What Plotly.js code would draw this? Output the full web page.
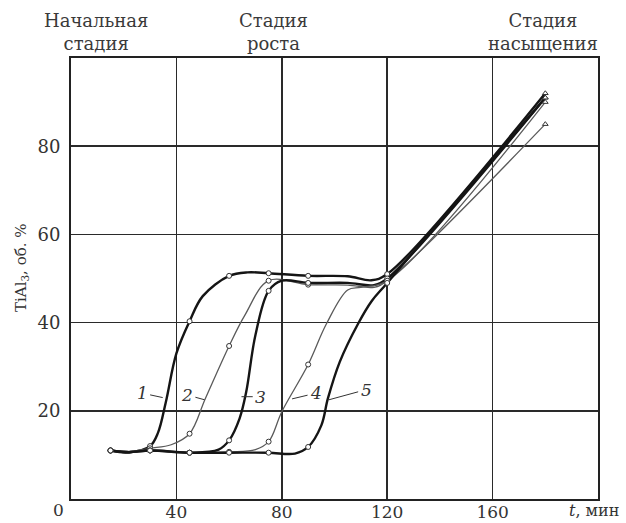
<!DOCTYPE html>
<html>
<head>
<meta charset="utf-8">
<script src="https://cdn.plot.ly/plotly-3.0.1.min.js"></script>
<style>html,body{margin:0;padding:0;background:#fff;}#chart{width:626px;height:523px;}</style>
</head>
<body>
<div id="chart"></div>
<script>
// Time, min, and TiAl3 volume fraction, %
const t1 = [15, 22, 30, 33, 36, 40, 45, 50, 60, 67, 75, 90, 105, 114, 120, 180];
const y1 = [11, 10.6, 12, 15, 22, 33, 40.3, 46, 50.6, 51.4, 51.2, 50.6, 50.5, 49.6, 51, 92];

const t2 = [15, 22, 30, 38, 45, 51, 60, 66, 75, 90, 105, 115, 120, 180];
const y2 = [11, 10.8, 11.5, 12.3, 14.8, 22.8, 34.7, 41.7, 49.5, 48.6, 48.5, 48, 49.5, 85];

const t3 = [15, 22, 30, 45, 56, 60, 64, 66.5, 70, 75, 80, 90, 105, 115, 120, 180];
const y3 = [11, 10.6, 11, 10.5, 11.2, 13.3, 18.3, 24.3, 37.2, 47.2, 49.5, 49, 49, 48.5, 50, 91];

const t4 = [15, 22, 30, 45, 60, 70, 75, 80, 90, 97, 105, 110, 120, 180];
const y4 = [11, 10.6, 11, 10.5, 10.7, 11.2, 13, 19.8, 30.5, 39.8, 47.4, 48, 49.5, 90];

const t5 = [15, 22, 30, 45, 60, 75, 85, 90, 95, 97.5, 102, 109, 114, 120, 180];
const y5 = [11, 10.6, 11, 10.5, 10.5, 10.5, 10.3, 11.8, 16.7, 22.8, 31.1, 39.8, 44.8, 49, 91];

const markerTimes = [15, 30, 45, 60, 75, 90, 120, 180];

const curveLabels = ['1', '2', '3', '4', '5'];
// label text position and point on the curve where the leader line ends
const labelTextX = [27, 44, 72, 93, 112];
const labelTextY = [24, 23.6, 23.2, 24, 24.8];
const labelTipX = [34.8, 50.7, 64.7, 83.9, 97.9];
const labelTipY = [23, 22.5, 23.2, 22.7, 22.5];

const stageLabels = ['Начальная<br>стадия', 'Стадия<br>роста', 'Стадия<br>насыщения'];

const xTicks = [40, 80, 120, 160];
const yTicks = [20, 40, 60, 80];

const FONT = 'DejaVu Serif, serif';
const series = [[t1, y1], [t2, y2], [t3, y3], [t4, y4], [t5, y5]];
const thick = [true, false, true, false, true];

// plot-area pixel geometry (for converting page positions of free texts)
const L = 71, R = 598, T = 58, B = 499;
const px2x = p => (p - L) / (R - L);
const py2y = p => (B - p) / (B - T);

const traces = [];
series.forEach(([t, y], i) => {
  traces.push({
    x: t, y: y, mode: 'lines', type: 'scatter', hoverinfo: 'skip',
    line: {shape: 'spline', smoothing: 1, color: thick[i] ? '#151515' : '#5a5a5a', width: thick[i] ? 2.4 : 1.3}
  });
});
series.forEach(([t, y], i) => {
  const mx = [], my = [], ms = [];
  t.forEach((v, k) => {
    if (markerTimes.includes(v)) { mx.push(v); my.push(y[k]); ms.push(v === 180 ? 'triangle-up' : 'circle'); }
  });
  traces.push({
    x: mx, y: my, mode: 'markers', type: 'scatter', hoverinfo: 'skip',
    marker: {symbol: ms, size: 5, color: '#fff', line: {color: '#333', width: 1}}
  });
});

const annotations = [];
curveLabels.forEach((lab, i) => {
  annotations.push({
    x: labelTipX[i], y: labelTipY[i], xref: 'x', yref: 'y',
    ax: labelTextX[i], ay: labelTextY[i], axref: 'x', ayref: 'y',
    text: '<i>' + lab + '</i>', showarrow: true, arrowhead: 0, arrowwidth: 1, arrowcolor: '#333',
    standoff: 0, startstandoff: 1,
    font: {family: FONT, size: 17, color: '#333'}
  });
});
const stageX = [96, 273, 543];
stageLabels.forEach((s, i) => {
  annotations.push({
    x: px2x(stageX[i]), y: py2y(32), xref: 'paper', yref: 'paper', xanchor: 'center', yanchor: 'middle',
    text: s, showarrow: false, font: {family: FONT, size: 18, color: '#3a3a3a'}
  });
});
annotations.push({x: px2x(58), y: py2y(510), xref: 'paper', yref: 'paper', xanchor: 'center', yanchor: 'middle',
  text: '0', showarrow: false, font: {family: FONT, size: 17, color: '#333'}});
annotations.push({x: px2x(594), y: py2y(510), xref: 'paper', yref: 'paper', xanchor: 'center', yanchor: 'middle',
  text: '<i>t</i>, мин', showarrow: false, font: {family: FONT, size: 16, color: '#333'}});
annotations.push({x: px2x(21), y: py2y(268), xref: 'paper', yref: 'paper', xanchor: 'center', yanchor: 'middle',
  textangle: -90, text: 'TiAl<sub>3</sub>, об. %', showarrow: false, font: {family: FONT, size: 15, color: '#333'}});

const layout = {
  width: 626, height: 523,
  margin: {l: L, r: 626 - R, t: T, b: 523 - B, pad: 0},
  paper_bgcolor: '#fff', plot_bgcolor: '#fff',
  showlegend: false,
  font: {family: FONT, size: 17, color: '#333'},
  xaxis: {range: [0, 200], tickvals: xTicks, ticks: '', showgrid: true, gridcolor: '#2a2a2a', gridwidth: 1.5,
    showline: true, linecolor: '#222', linewidth: 2, mirror: true, zeroline: false, ticklabelstandoff: -3,
    tickfont: {family: FONT, size: 17, color: '#333'}},
  yaxis: {range: [0, 100], tickvals: yTicks, ticks: '', showgrid: true, gridcolor: '#2a2a2a', gridwidth: 1.5,
    showline: true, linecolor: '#222', linewidth: 2, mirror: true, zeroline: false, ticklabelstandoff: 5,
    tickfont: {family: FONT, size: 18, color: '#333'}},
  annotations: annotations
};

Plotly.newPlot('chart', traces, layout, {staticPlot: true, displayModeBar: false});
</script>
</body>
</html>
